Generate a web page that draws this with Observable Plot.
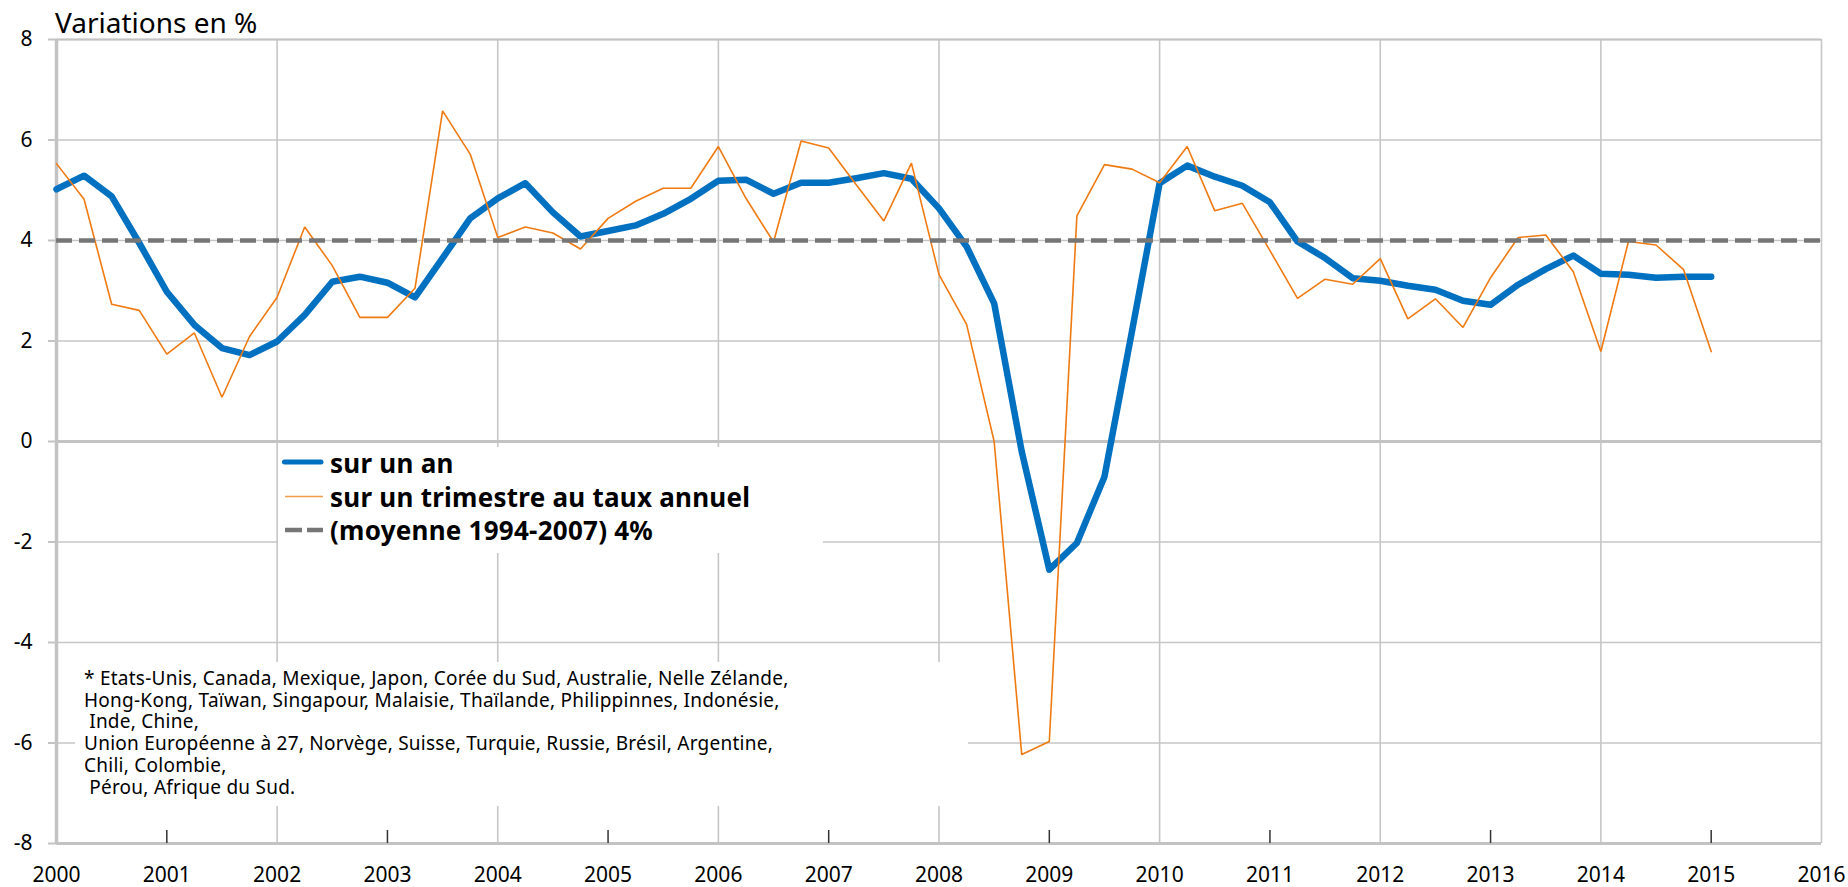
<!DOCTYPE html>
<html>
<head>
<meta charset="utf-8">
<script src="https://cdn.jsdelivr.net/npm/d3@7"></script>
<script src="https://cdn.jsdelivr.net/npm/@observablehq/plot@0.6"></script>
<style>
html, body { margin: 0; padding: 0; background: #fff; }
#wrap { position: relative; width: 1848px; height: 887px; font-family: "Noto Sans", Lato, sans-serif; color: #000; overflow: hidden; }
#title { position: absolute; left: 55px; top: 6px; font-size: 28px; line-height: 32px; white-space: nowrap; }
#legend { position: absolute; left: 278px; top: 447px; width: 545px; height: 106px; background: #fff; }
#legend .row { position: absolute; left: 0; height: 33.5px; width: 545px; }
#legend .row svg { position: absolute; left: 0; top: 0; }
#legend .row span { position: absolute; left: 52px; top: 0; font-size: 26px; letter-spacing: 0.25px; line-height: 33.5px; font-weight: 700; white-space: nowrap; }
#note { position: absolute; left: 75px; top: 662px; width: 893px; height: 144px; box-sizing: border-box; padding: 6px 0 0 9px; background: #fff; font-size: 19px; letter-spacing: 0.25px; line-height: 21.7px; white-space: pre; }
</style>
</head>
<body>
<div id="wrap"></div>
<script>
// ---- Data ----
const quarters = [
  2000, 2000.25, 2000.5, 2000.75, 2001, 2001.25, 2001.5, 2001.75,
  2002, 2002.25, 2002.5, 2002.75, 2003, 2003.25, 2003.5, 2003.75,
  2004, 2004.25, 2004.5, 2004.75, 2005, 2005.25, 2005.5, 2005.75,
  2006, 2006.25, 2006.5, 2006.75, 2007, 2007.25, 2007.5, 2007.75,
  2008, 2008.25, 2008.5, 2008.75, 2009, 2009.25, 2009.5, 2009.75,
  2010, 2010.25, 2010.5, 2010.75, 2011, 2011.25, 2011.5, 2011.75,
  2012, 2012.25, 2012.5, 2012.75, 2013, 2013.25, 2013.5, 2013.75,
  2014, 2014.25, 2014.5, 2014.75, 2015
];
// sur un an
const surUnAn = [
  5.02, 5.29, 4.88, 3.95,  2.98, 2.32, 1.86, 1.72,
  1.99, 2.52, 3.18, 3.28,  3.16, 2.87, 3.65, 4.44,
  4.84, 5.14, 4.56, 4.08,  4.19, 4.30, 4.53, 4.83,
  5.19, 5.21, 4.93, 5.15,  5.15, 5.24, 5.34, 5.23,
  4.64, 3.88, 2.75, -0.20, -2.55, -2.02, -0.70, 2.20,
  5.14, 5.49, 5.27, 5.09,  4.76, 3.98, 3.65, 3.25,
  3.20, 3.10, 3.02, 2.80,  2.72, 3.12, 3.43, 3.70,
  3.34, 3.32, 3.26, 3.28,  3.28
];
// sur un trimestre au taux annuel
const surUnTrimestre = [
  5.53, 4.82, 2.73, 2.61,  1.74, 2.16, 0.88, 2.09,
  2.87, 4.27, 3.50, 2.47,  2.47, 3.05, 6.58, 5.72,
  4.06, 4.27, 4.15, 3.83,  4.44, 4.78, 5.04, 5.04,
  5.87, 4.84, 3.97, 5.98,  5.84, 5.11, 4.39, 5.54,
  3.32, 2.33, 0.00, -6.23, -5.97, 4.49, 5.51, 5.42,
  5.15, 5.87, 4.59, 4.74,  3.80, 2.85, 3.23, 3.13,
  3.64, 2.44, 2.84, 2.27,  3.26, 4.06, 4.11, 3.38,
  1.79, 3.98, 3.91, 3.42,  1.79
];
const moyenne = [4]; // moyenne 1994-2007
const yTicks = [-8, -6, -4, -2, 0, 2, 4, 6, 8];
const yearLabels = [2000, 2001, 2002, 2003, 2004, 2005, 2006, 2007, 2008, 2009, 2010, 2011, 2012, 2013, 2014, 2015, 2016];
const gridYears = [2002, 2004, 2006, 2008, 2010, 2012, 2014, 2016];
const oddYears = [2001, 2003, 2005, 2007, 2009, 2011, 2013, 2015];
const seriesNames = ["sur un an", "sur un trimestre au taux annuel", "(moyenne 1994-2007) 4%"];
const titleText = "Variations en %";
const noteLines = [
  "* Etats-Unis, Canada, Mexique, Japon, Corée du Sud, Australie, Nelle Zélande,",
  "Hong-Kong, Taïwan, Singapour, Malaisie, Thaïlande, Philippinnes, Indonésie,",
  " Inde, Chine,",
  "Union Européenne à 27, Norvège, Suisse, Turquie, Russie, Brésil, Argentine,",
  "Chili, Colombie,",
  " Pérou, Afrique du Sud."
];

// ---- Styles ----
const BLUE = "#0070C0";
const ORANGE = "#F07A12";
const DASH = "#767676";
const GRID = "#c6c6c6";
const AXIS = "#c3c3c3";
const FONT = '"Noto Sans", Lato, sans-serif';

const data = quarters.map((t, i) => ({t, an: surUnAn[i], trim: surUnTrimestre[i]}));

const chart = Plot.plot({
  width: 1848,
  height: 887,
  marginLeft: 56,
  marginRight: 27,
  marginTop: 39,
  marginBottom: 44,
  style: {fontFamily: FONT, fontSize: "21px", color: "#000", background: "transparent", overflow: "visible"},
  x: {domain: [2000, 2016], label: null},
  y: {domain: [-8, 8], label: null},
  marks: [
    Plot.ruleY(yTicks, {stroke: GRID, strokeWidth: 1.6}),
    Plot.ruleX(gridYears, {stroke: GRID, strokeWidth: 1.6}),
    Plot.ruleY([0], {stroke: AXIS, strokeWidth: 3}),
    Plot.ruleY([-8], {stroke: AXIS, strokeWidth: 3}),
    Plot.ruleY([8], {stroke: AXIS, strokeWidth: 2.2}),
    Plot.ruleX([2000], {stroke: AXIS, strokeWidth: 3.5}),
    // y ticks (outward, grey) and labels
    Plot.axisY({ticks: yTicks, tickSize: 8, tickPadding: 0, tickFormat: () => "", stroke: AXIS, strokeWidth: 2}),
    Plot.text(yTicks, {y: d => d, text: d => String(d), frameAnchor: "left", textAnchor: "end", dx: -24, fontSize: 21, fill: "#000"}),
    // x labels and inner odd-year ticks
    Plot.axisX({ticks: yearLabels, tickSize: 0, tickPadding: 24, tickFormat: d => String(d), fontSize: 21}),
    Plot.axisX({ticks: oddYears, tickSize: -13, tickPadding: 0, tickFormat: () => "", stroke: "#333", strokeWidth: 1.5}),
    // series
    Plot.line(data, {x: "t", y: "an", stroke: BLUE, strokeWidth: 6.5, strokeLinejoin: "round", strokeLinecap: "round"}),
    Plot.line(data, {x: "t", y: "trim", stroke: ORANGE, strokeWidth: 1.6, strokeLinejoin: "miter"}),
    Plot.ruleY(moyenne, {stroke: DASH, strokeWidth: 4.5, strokeDasharray: "16,7"})
  ]
});

const wrap = document.getElementById("wrap");
wrap.appendChild(chart);

const title = document.createElement("div");
title.id = "title";
title.textContent = titleText;
wrap.appendChild(title);

// Legend
const legend = document.createElement("div");
legend.id = "legend";
const swatches = [
  `<line x1="6.5" y1="15" x2="43" y2="15" stroke="${BLUE}" stroke-width="5" stroke-linecap="round"/>`,
  `<line x1="7" y1="15.5" x2="45" y2="15.5" stroke="${ORANGE}" stroke-width="1.5" stroke-opacity="0.75"/>`,
  `<line x1="7" y1="16" x2="45" y2="16" stroke="${DASH}" stroke-width="4.5" stroke-dasharray="17,5"/>`
];
seriesNames.forEach((name, i) => {
  const row = document.createElement("div");
  row.className = "row";
  row.style.top = (i * 33.5) + "px";
  row.innerHTML = `<svg width="50" height="33" viewBox="0 0 50 33">${swatches[i]}</svg><span></span>`;
  row.querySelector("span").textContent = name;
  legend.appendChild(row);
});
wrap.appendChild(legend);

// Footnote
const note = document.createElement("div");
note.id = "note";
note.textContent = noteLines.join("\n");
wrap.appendChild(note);
</script>
</body>
</html>
